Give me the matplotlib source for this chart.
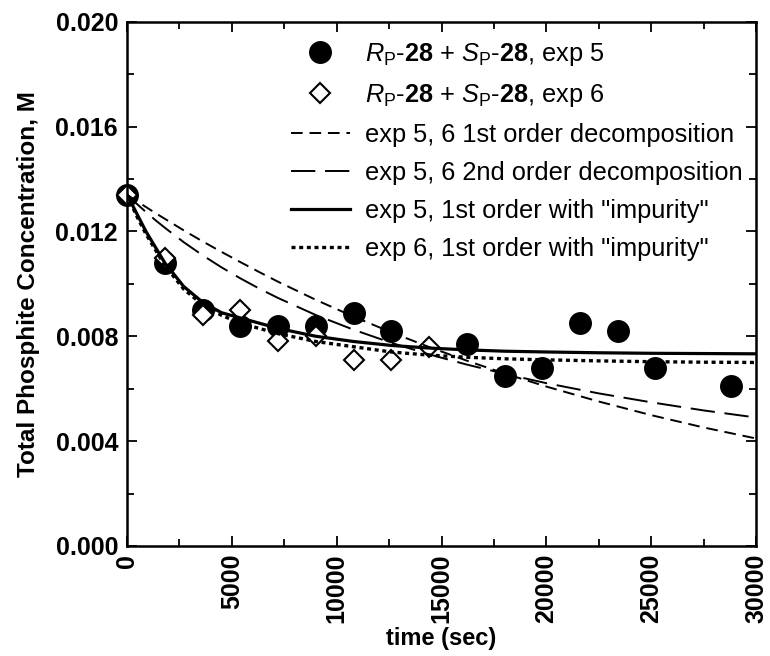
import matplotlib
matplotlib.use('Agg')
import matplotlib.pyplot as plt
from matplotlib.ticker import MultipleLocator, FormatStrFormatter

plt.rcParams['font.family'] = ['Liberation Sans', 'DejaVu Sans']
plt.rcParams['mathtext.fontset'] = 'custom'
plt.rcParams['mathtext.rm'] = 'Liberation Sans'
plt.rcParams['mathtext.it'] = 'Liberation Sans:italic'
plt.rcParams['mathtext.bf'] = 'Liberation Sans:bold'

# measured points (time in sec, concentration in M)
t_exp5 = [0, 1800, 3600, 5400, 7200, 9000, 10800, 12600, 16200, 18000,
          19800, 21600, 23400, 25200, 28800]
c_exp5 = [0.0134, 0.0108, 0.0090, 0.0084, 0.0084, 0.0084, 0.0089, 0.0082,
          0.0077, 0.0065, 0.0068, 0.0085, 0.0082, 0.0068, 0.0061]

t_exp6 = [0, 1800, 3600, 5400, 7200, 9000, 10800, 12600, 14400]
c_exp6 = [0.0134, 0.0110, 0.0088, 0.0090, 0.0078, 0.0080, 0.0071, 0.0071, 0.0076]

# fitted curves
t_fit = [0, 450, 900, 1350, 1800, 2700, 3600, 4500, 5400, 6300, 7200, 9000,
         10800, 12600, 14400, 16200, 18000, 20000, 22500, 25000, 27500, 30000]
c_first = [0.01340, 0.01316, 0.01293, 0.01270, 0.01248, 0.01204, 0.01162,
           0.01122, 0.01083, 0.01045, 0.01008, 0.00939, 0.00875, 0.00815,
           0.00759, 0.00707, 0.00658, 0.00608, 0.00551, 0.00499, 0.00452, 0.00410]
c_second = [0.01340, 0.01306, 0.01274, 0.01243, 0.01214, 0.01159, 0.01109,
            0.01063, 0.01021, 0.00982, 0.00946, 0.00881, 0.00825, 0.00775,
            0.00731, 0.00692, 0.00657, 0.00621, 0.00582, 0.00548, 0.00517, 0.00490]
c_imp5 = [0.0134, 0.0127, 0.0120, 0.0114, 0.0108, 0.0099, 0.0093, 0.0089,
          0.0087, 0.0085, 0.0083, 0.0080, 0.0078, 0.00765, 0.00755, 0.00748,
          0.00743, 0.00740, 0.00737, 0.00735, 0.00734, 0.00733]
c_imp6 = [0.0134, 0.0126, 0.0119, 0.0113, 0.0107, 0.0098, 0.0092, 0.0088,
          0.0085, 0.0083, 0.0081, 0.0078, 0.0076, 0.00740, 0.00728, 0.00720,
          0.00714, 0.00710, 0.00706, 0.00703, 0.00701, 0.00700]

labels = [r'$\mathit{R}_{\mathrm{P}}$-$\mathbf{28}$ + $\mathit{S}_{\mathrm{P}}$-$\mathbf{28}$, exp 5',
          r'$\mathit{R}_{\mathrm{P}}$-$\mathbf{28}$ + $\mathit{S}_{\mathrm{P}}$-$\mathbf{28}$, exp 6',
          'exp 5, 6 1st order decomposition',
          'exp 5, 6 2nd order decomposition',
          'exp 5, 1st order with "impurity"',
          'exp 6, 1st order with "impurity"']

fig = plt.figure(figsize=(7.7, 6.56), dpi=100)
ax = fig.add_axes([0.165, 0.1677, 0.817, 0.7993])

h1, = ax.plot(t_exp5, c_exp5, 'o', color='black', ms=15.5, zorder=2, clip_on=False)
h2, = ax.plot(t_exp6, c_exp6, 'D', mfc='white', mec='black', mew=1.5, ms=10.5,
              zorder=2.5, clip_on=False)
h3, = ax.plot(t_fit, c_first, color='black', lw=1.4, dashes=(6, 3.5), zorder=3)
h4, = ax.plot(t_fit, c_second, color='black', lw=1.4, dashes=(12.5, 5), zorder=3)
h5, = ax.plot(t_fit, c_imp5, color='black', lw=2.3, zorder=3)
h6, = ax.plot(t_fit, c_imp6, color='black', lw=2.4, dashes=(1.2, 1.1),
              dash_capstyle='butt', zorder=3)

ax.set_xlim(0, 30000)
ax.set_ylim(0, 0.020)
ax.xaxis.set_major_locator(MultipleLocator(5000))
ax.xaxis.set_minor_locator(MultipleLocator(2500))
ax.yaxis.set_major_locator(MultipleLocator(0.004))
ax.yaxis.set_minor_locator(MultipleLocator(0.002))
ax.yaxis.set_major_formatter(FormatStrFormatter('%.3f'))

ax.tick_params(which='both', direction='in', top=True, right=True, width=1.3)
ax.tick_params(which='major', length=7.2)
ax.tick_params(which='minor', length=5)
ax.tick_params(axis='y', which='major', pad=6.5)
ax.tick_params(axis='x', which='major', pad=5.5)
for lab in ax.get_xticklabels() + ax.get_yticklabels():
    lab.set_fontsize(18)
    lab.set_fontweight('bold')
for lab in ax.get_xticklabels():
    lab.set_rotation(90)
for sp in ax.spines.values():
    sp.set_linewidth(1.8)

ax.set_xlabel('time (sec)', fontsize=17, fontweight='bold', labelpad=3)
ax.set_ylabel('Total Phosphite Concentration, M', fontsize=17.5,
              fontweight='bold', labelpad=11)

ax.legend([h1, h2, h3, h4, h5, h6], labels, loc='upper left',
          bbox_to_anchor=(0.261, 0.963), frameon=False, fontsize=18.3,
          handlelength=2.3, handletextpad=0.6, labelspacing=0.55,
          borderpad=0, borderaxespad=0, numpoints=1)

fig.savefig('out.png', dpi=100)
